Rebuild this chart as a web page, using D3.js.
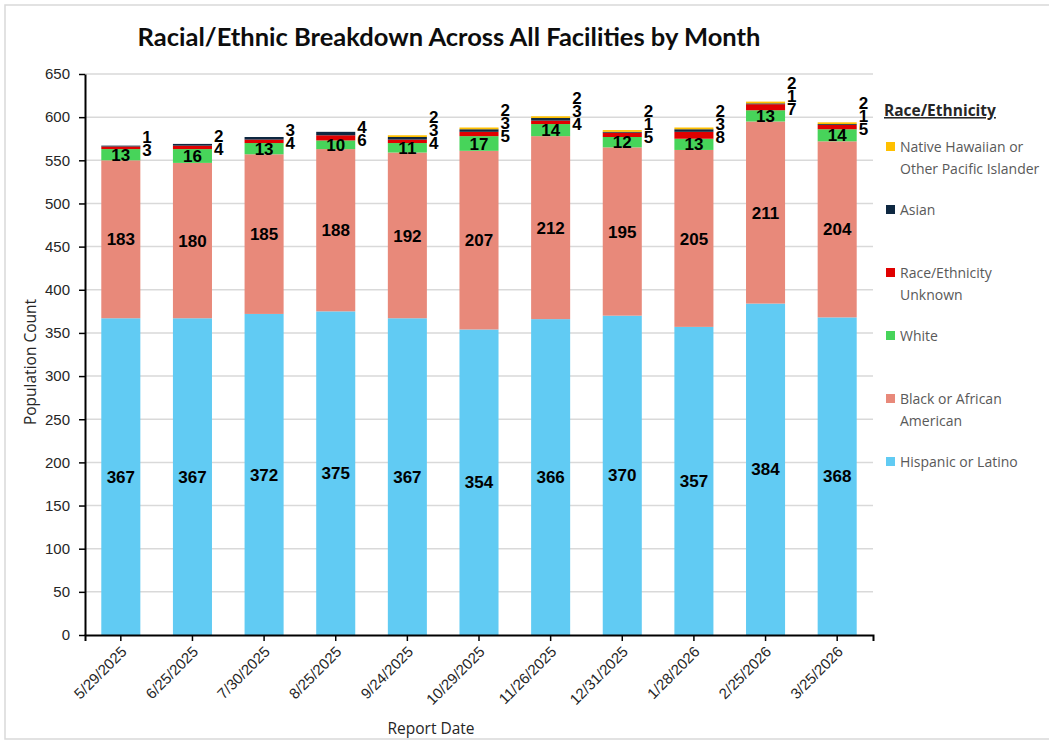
<!DOCTYPE html>
<html>
<head>
<meta charset="utf-8">
<script src="https://cdn.jsdelivr.net/npm/d3@7"></script>
<style>
  body { margin: 0; background: #fff; }
  svg { display: block; }
</style>
</head>
<body>
<div id="root"></div>
<script>
// Data.
const dates = ['5/29/2025', '6/25/2025', '7/30/2025', '8/25/2025', '9/24/2025', '10/29/2025',
  '11/26/2025', '12/31/2025', '1/28/2026', '2/25/2026', '3/25/2026'];
const hispanic = [367, 367, 372, 375, 367, 354, 366, 370, 357, 384, 368];
const black = [183, 180, 185, 188, 192, 207, 212, 195, 205, 211, 204];
const white = [13, 16, 13, 10, 11, 17, 14, 12, 13, 13, 14];
const unknown = [3, 4, 4, 6, 4, 5, 4, 5, 8, 7, 5];
const asian = [1, 2, 3, 4, 3, 3, 3, 1, 3, 1, 1];
const nhpi = [0, 0, 0, 0, 2, 2, 2, 2, 2, 2, 2];
const yTicks = [0, 50, 100, 150, 200, 250, 300, 350, 400, 450, 500, 550, 600, 650];

const series = [
  { key: 'Hispanic or Latino', values: hispanic, color: '#61cbf3', inside: true },
  { key: 'Black or African American', values: black, color: '#e8897a', inside: true },
  { key: 'White', values: white, color: '#47d45a', inside: true },
  { key: 'Race/Ethnicity Unknown', values: unknown, color: '#e00000', inside: false },
  { key: 'Asian', values: asian, color: '#0e2841', inside: false },
  { key: 'Native Hawaiian or Other Pacific Islander', values: nhpi, color: '#ffc000', inside: false }
];

const legendItems = [
  { lines: ['Native Hawaiian or', 'Other Pacific Islander'], color: '#ffc000', y: 147 },
  { lines: ['Asian'], color: '#0e2841', y: 210 },
  { lines: ['Race/Ethnicity', 'Unknown'], color: '#e00000', y: 273 },
  { lines: ['White'], color: '#47d45a', y: 336 },
  { lines: ['Black or African', 'American'], color: '#e8897a', y: 399 },
  { lines: ['Hispanic or Latino'], color: '#61cbf3', y: 462 }
];

const W = 1049, H = 740;
const plot = { left: 85, right: 873, top: 74, bottom: 635 };

const svg = d3.select('#root').append('svg')
  .attr('width', W).attr('height', H);

// Chart frame
svg.append('rect')
  .attr('x', 5).attr('y', 5).attr('width', W + 10).attr('height', H - 6)
  .attr('fill', '#fff').attr('stroke', '#d9d9d9').attr('stroke-width', 1.5);

const x = d3.scaleBand().domain(dates).range([plot.left, plot.right]).paddingInner(0.455).paddingOuter(0.2275);
const y = d3.scaleLinear().domain([0, 650]).range([plot.bottom, plot.top]);

// Gridlines
svg.append('g').selectAll('line').data(yTicks.slice(1)).enter().append('line')
  .attr('x1', plot.left).attr('x2', plot.right)
  .attr('y1', d => y(d)).attr('y2', d => y(d))
  .attr('stroke', '#d9d9d9').attr('stroke-width', 1.5);

// Build stacks
const rows = dates.map((d, i) => {
  const r = { date: d };
  series.forEach(s => { r[s.key] = s.values[i]; });
  return r;
});
const stack = d3.stack().keys(series.map(s => s.key))(rows);

const layers = svg.append('g').selectAll('g').data(stack).enter().append('g')
  .attr('fill', (d, i) => series[i].color);

layers.selectAll('rect').data(d => d).enter().append('rect')
  .attr('x', d => x(d.data.date))
  .attr('width', x.bandwidth())
  .attr('y', d => y(d[1]))
  .attr('height', d => y(d[0]) - y(d[1]));

// Inside labels
const labelFont = '"Liberation Sans", Arial, sans-serif';
stack.forEach((layer, si) => {
  if (!series[si].inside) return;
  svg.append('g').selectAll('text').data(layer).enter().append('text')
    .attr('x', d => x(d.data.date) + x.bandwidth() / 2)
    .attr('y', d => (y(d[0]) + y(d[1])) / 2)
    .attr('dy', '0.36em')
    .attr('text-anchor', 'middle')
    .style('font-family', labelFont)
    .style('font-weight', 'bold')
    .style('font-size', '17px')
    .attr('fill', '#000')
    .text(d => d[1] - d[0]);
});

// Outside labels for the small segments, stacked upward beside the bar
dates.forEach((d, i) => {
  let lastY = Infinity;
  stack.forEach((layer, si) => {
    if (series[si].inside) return;
    const seg = layer[i];
    const v = seg[1] - seg[0];
    if (v <= 0) return;
    let ly = (y(seg[0]) + y(seg[1])) / 2 + 2;
    if (ly > lastY - 13) ly = lastY - 13;
    lastY = ly;
    svg.append('text')
      .attr('x', x(d) + x.bandwidth() + 2)
      .attr('y', ly)
      .attr('dy', '0.36em')
      .style('font-family', labelFont)
      .style('font-weight', 'bold')
      .style('font-size', '17px')
      .attr('fill', '#000')
      .text(v);
  });
});

// Y axis
const yAxis = svg.append('g')
  .attr('transform', `translate(${plot.left},0)`)
  .call(d3.axisLeft(y).tickValues(yTicks).tickSize(6).tickSizeOuter(0));
yAxis.select('.domain').attr('stroke', '#000').attr('stroke-width', 2);
yAxis.selectAll('.tick line').attr('stroke', '#000').attr('stroke-width', 1.5);
yAxis.selectAll('text')
  .attr('x', -15)
  .style('font-family', labelFont)
  .style('font-size', '15px')
  .attr('fill', '#262626');

// X axis
const xAxis = svg.append('g')
  .attr('transform', `translate(0,${plot.bottom})`)
  .call(d3.axisBottom(x).tickSize(6).tickSizeOuter(6));
xAxis.select('.domain').attr('stroke', '#000').attr('stroke-width', 2);
xAxis.selectAll('.tick line').attr('stroke', '#000').attr('stroke-width', 1.5);
xAxis.selectAll('text')
  .attr('text-anchor', 'end')
  .attr('transform', 'translate(3,14) rotate(-45)')
  .attr('x', 0).attr('y', 0).attr('dy', '0.35em')
  .style('font-family', labelFont)
  .style('font-size', '15px')
  .attr('fill', '#262626');

// Titles
const titleFont = 'Lato, "Open Sans", sans-serif';
const uiFont = '"Open Sans", Lato, sans-serif';
svg.append('text')
  .attr('x', 449).attr('y', 46)
  .attr('text-anchor', 'middle')
  .style('font-family', titleFont)
  .style('font-weight', 'bold')
  .style('font-size', '25.5px')
  .attr('fill', '#0d0d0d')
  .text('Racial/Ethnic Breakdown Across All Facilities by Month');

svg.append('text')
  .attr('transform', 'translate(36,362) rotate(-90)')
  .attr('text-anchor', 'middle')
  .style('font-family', uiFont)
  .style('font-size', '15.5px')
  .attr('fill', '#262626')
  .text('Population Count');

svg.append('text')
  .attr('x', 431).attr('y', 734)
  .attr('text-anchor', 'middle')
  .style('font-family', uiFont)
  .style('font-size', '15.5px')
  .attr('fill', '#262626')
  .text('Report Date');

// Legend
const legend = svg.append('g').attr('id', 'legend');
legend.append('text')
  .attr('x', 884).attr('y', 116)
  .style('font-family', uiFont)
  .style('font-weight', 'bold')
  .style('font-size', '15.5px')
  .style('text-decoration', 'underline')
  .attr('fill', '#262626')
  .text('Race/Ethnicity');

const items = legend.selectAll('.legend-item').data(legendItems).enter().append('g')
  .attr('class', 'legend-item');
items.append('rect')
  .attr('x', 886).attr('y', d => d.y - 5)
  .attr('width', 9).attr('height', 9)
  .attr('fill', d => d.color);
items.each(function (d) {
  const g = d3.select(this);
  d.lines.forEach((line, li) => {
    g.append('text')
      .attr('x', 900).attr('y', d.y + li * 22)
      .attr('dy', '0.35em')
      .style('font-family', uiFont)
      .style('font-size', '14px')
      .attr('fill', '#595959')
      .text(line);
  });
});
</script>
</body>
</html>
